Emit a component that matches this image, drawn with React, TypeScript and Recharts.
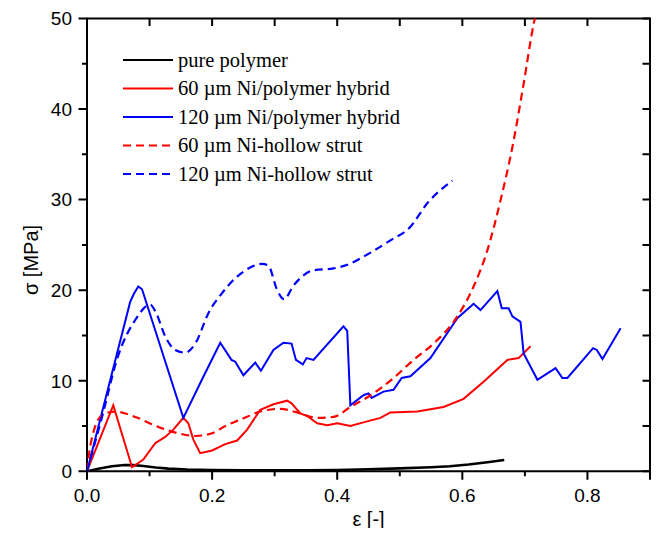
import { LineChart, Line, XAxis, YAxis, ReferenceArea } from "recharts"

// strain [-], stress [MPa] pairs
const purePolymer: [number, number][] = [
  [0, 0], [0.02, 0.3], [0.04, 0.55], [0.06, 0.7], [0.075, 0.68], [0.09, 0.58],
  [0.11, 0.42], [0.13, 0.3], [0.16, 0.2], [0.2, 0.14], [0.25, 0.1], [0.3, 0.1],
  [0.35, 0.1], [0.4, 0.15], [0.45, 0.22], [0.5, 0.32], [0.55, 0.45], [0.58, 0.55],
  [0.61, 0.75], [0.64, 1.0], [0.667, 1.25],
]

const hybrid60: [number, number][] = [
  [0, 0], [0.042, 7.3], [0.072, 0.45], [0.09, 1.3], [0.109, 3.1], [0.125, 3.8],
  [0.138, 4.6], [0.154, 5.9], [0.162, 5.3], [0.17, 3.5], [0.181, 2.0], [0.2, 2.3],
  [0.221, 3.0], [0.24, 3.4], [0.256, 4.6], [0.277, 6.8], [0.298, 7.4], [0.32, 7.8],
  [0.327, 7.5], [0.341, 6.4], [0.352, 6.1], [0.368, 5.3], [0.384, 5.1], [0.4, 5.3],
  [0.421, 5.0], [0.442, 5.4], [0.469, 5.9], [0.485, 6.5], [0.528, 6.6], [0.57, 7.1],
  [0.602, 8.0], [0.634, 9.9], [0.672, 12.3], [0.69, 12.5], [0.709, 13.8],
]

const hybrid120: [number, number][] = [
  [0, 0], [0.069, 18.7], [0.075, 19.6], [0.082, 20.4], [0.088, 20.1], [0.154, 5.9],
  [0.185, 10.3], [0.213, 14.2], [0.231, 12.3], [0.237, 12.1], [0.25, 10.6], [0.269, 12.0],
  [0.278, 11.1], [0.298, 13.4], [0.314, 14.2], [0.327, 14.1], [0.334, 12.3], [0.345, 11.8],
  [0.351, 12.5], [0.362, 12.3], [0.41, 16.0], [0.416, 15.5], [0.421, 7.3], [0.442, 8.4],
  [0.45, 8.6], [0.455, 8.1], [0.474, 8.8], [0.49, 9.0], [0.503, 10.3], [0.517, 10.5],
  [0.549, 12.5], [0.592, 16.9], [0.618, 18.5], [0.629, 17.8], [0.656, 19.9], [0.663, 18.0],
  [0.674, 18.0], [0.68, 17.1], [0.693, 16.5], [0.698, 13.0], [0.72, 10.1], [0.749, 11.4],
  [0.76, 10.3], [0.768, 10.3], [0.809, 13.6], [0.815, 13.4], [0.824, 12.4], [0.853, 15.8],
]

const hollow60: [number, number][] = [
  [0, 0], [0.005, 2.7], [0.024, 6.2], [0.045, 6.6], [0.077, 6.0], [0.114, 4.9],
  [0.146, 4.2], [0.173, 3.9], [0.2, 4.2], [0.221, 5.0], [0.245, 5.7], [0.277, 6.6],
  [0.309, 6.9], [0.336, 6.5], [0.368, 5.9], [0.394, 6.0], [0.421, 7.1], [0.458, 8.6],
  [0.49, 10.3], [0.522, 12.3], [0.554, 14.1], [0.592, 17.1], [0.618, 20.4], [0.64, 24.4],
  [0.661, 29.9], [0.682, 36.5], [0.698, 42.8], [0.714, 49.4], [0.719, 51],
]

const hollow120: [number, number][] = [
  [0, 0], [0.024, 6.0], [0.05, 12.8], [0.077, 16.7], [0.101, 18.4], [0.111, 17.4],
  [0.125, 14.9], [0.141, 13.4], [0.157, 13.1], [0.173, 14.1], [0.195, 17.6], [0.215, 19.6],
  [0.24, 21.5], [0.261, 22.5], [0.28, 22.9], [0.29, 22.7], [0.304, 20.0], [0.315, 19.0],
  [0.33, 20.5], [0.362, 22.2], [0.394, 22.4], [0.416, 22.8], [0.447, 23.9], [0.485, 25.5],
  [0.517, 27.0], [0.544, 29.6], [0.584, 32.1],
]

const xTicks = [0, 0.1, 0.2, 0.3, 0.4, 0.5, 0.6, 0.7, 0.8, 0.9]
const xLabels = ["0.0", "", "0.2", "", "0.4", "", "0.6", "", "0.8", ""]
const yTicks = [0, 5, 10, 15, 20, 25, 30, 35, 40, 45, 50]
const yLabels = ["0", "", "10", "", "20", "", "30", "", "40", "", "50"]

const seriesNames = [
  "pure polymer",
  "60 µm Ni/polymer hybrid",
  "120 µm Ni/polymer hybrid",
  "60 µm Ni-hollow strut",
  "120 µm Ni-hollow strut",
]

const toRows = (pts: [number, number][]) => pts.map(([x, y]) => ({ x, y }))

const W = 650
const H = 520
const PLOT_TOP = 10.5
const PLOT_BOTTOM = 463.3
const PLOT_LEFT = 79
const PLOT_RIGHT = 642
const X_MAX = 0.9
const Y_MAX = 50

const SANS = "'Liberation Sans', Arial, sans-serif"
const SERIF = "'Liberation Serif', 'Times New Roman', serif"

const series = [
  { data: toRows(purePolymer), color: "#000000", dash: undefined, width: 2.6 },
  { data: toRows(hybrid60), color: "#ff0000", dash: undefined, width: 2 },
  { data: toRows(hybrid120), color: "#0000ff", dash: undefined, width: 2 },
  { data: toRows(hollow60), color: "#ff0000", dash: "8 5", width: 2.2 },
  { data: toRows(hollow120), color: "#0000ff", dash: "8 5", width: 2.2 },
]

function XTick(props: any) {
  const { x, index } = props
  const label = xLabels[index]
  if (!label) return <g />
  return (
    <text x={x} y={PLOT_BOTTOM + 30.5} textAnchor="middle" fontSize={19} fontFamily={SANS} fill="#000">
      {label}
    </text>
  )
}

function YTick(props: any) {
  const { y, index } = props
  const label = yLabels[index]
  if (!label) return <g />
  return (
    <text x={PLOT_LEFT - 15} y={y} dy="0.36em" textAnchor="end" fontSize={19} fontFamily={SANS} fill="#000">
      {label}
    </text>
  )
}

// tick marks: outward on bottom/left (short at unlabelled values), inward on top/right
function TickMarks() {
  const sx = (v: number) => PLOT_LEFT + (v / X_MAX) * (PLOT_RIGHT - PLOT_LEFT)
  const sy = (v: number) => PLOT_BOTTOM - (v / Y_MAX) * (PLOT_BOTTOM - PLOT_TOP)
  let d = ""
  xTicks.forEach((t, i) => {
    const len = xLabels[i] || i === xTicks.length - 1 ? 8.5 : 5
    const x = sx(t)
    d += `M${x},${PLOT_BOTTOM}V${PLOT_BOTTOM + len}M${x},${PLOT_TOP}V${PLOT_TOP + 7.5}`
  })
  yTicks.forEach((t, i) => {
    const len = yLabels[i] ? 8.5 : 5
    const y = sy(t)
    d += `M${PLOT_LEFT - len},${y}H${PLOT_LEFT}M${PLOT_RIGHT - 7.5},${y}H${PLOT_RIGHT}`
  })
  return (
    <svg width={W} height={H} style={{ position: "absolute", left: 0, top: 0, pointerEvents: "none" }}>
      <path d={d} stroke="#000" strokeWidth={2} fill="none" />
    </svg>
  )
}

function LegendBox() {
  return (
    <svg width={300} height={150} style={{ position: "absolute", left: 110, top: 37 }}>
      {seriesNames.map((name, i) => {
        const s = series[i]
        const cy = 15 + i * 28.5
        return (
          <g key={name}>
            <line x1={5} x2={55} y1={cy} y2={cy} stroke={s.color} strokeWidth={2} strokeDasharray={s.dash ? "8 5" : undefined} />
            <text x={60} y={cy} dy="0.33em" fontSize={20.5} fontFamily={SERIF} fill="#000">
              {name}
            </text>
          </g>
        )
      })}
    </svg>
  )
}

export default function App() {
  return (
    <div style={{ position: "relative", width: W, height: H }}>
      <LineChart width={W} height={H} margin={{ top: PLOT_TOP, right: W - PLOT_RIGHT, bottom: 0, left: 0 }}>
        <XAxis
          dataKey="x"
          type="number"
          domain={[0, X_MAX]}
          ticks={xTicks}
          tick={(p: any) => <XTick {...p} />}
          tickLine={false}
          axisLine={false}
          height={H - PLOT_BOTTOM}
          allowDataOverflow
        />
        <YAxis
          dataKey="y"
          type="number"
          domain={[0, Y_MAX]}
          ticks={yTicks}
          tick={(p: any) => <YTick {...p} />}
          tickLine={false}
          axisLine={false}
          width={PLOT_LEFT}
          allowDataOverflow
        />
        <ReferenceArea x1={0} x2={X_MAX} y1={0} y2={Y_MAX} fill="none" stroke="#000" strokeWidth={2} fillOpacity={0} />
        {series.map((s, i) => (
          <Line
            key={seriesNames[i]}
            data={s.data}
            dataKey="y"
            type={s.dash ? "monotone" : "linear"}
            stroke={s.color}
            strokeWidth={s.width}
            strokeDasharray={s.dash}
            dot={false}
            activeDot={false}
            isAnimationActive={false}
          />
        ))}
      </LineChart>
      <TickMarks />
      <div
        style={{
          position: "absolute",
          left: 23,
          top: 252,
          transform: "translate(-50%, -50%) rotate(-90deg)",
          fontFamily: SANS,
          fontSize: 20,
          whiteSpace: "nowrap",
        }}
      >
        σ [MPa]
      </div>
      <div
        style={{
          position: "absolute",
          left: (PLOT_LEFT + PLOT_RIGHT) / 2,
          top: 500,
          transform: "translateX(-50%)",
          fontFamily: SANS,
          fontSize: 20,
          whiteSpace: "nowrap",
        }}
      >
        ε [-]
      </div>
      <LegendBox />
    </div>
  )
}
